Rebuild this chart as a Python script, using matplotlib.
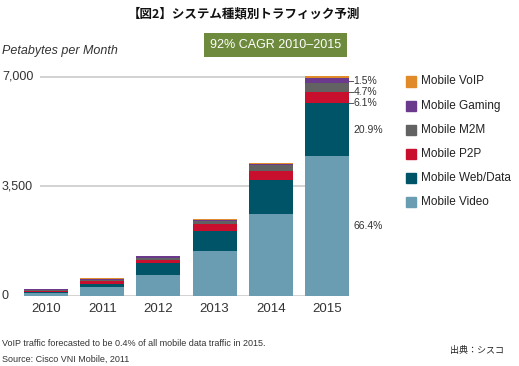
import matplotlib
matplotlib.use("Agg")
import matplotlib.pyplot as plt
import numpy as np

plt.rcParams['font.family'] = ['Liberation Sans', 'Noto Sans CJK JP', 'DejaVu Sans']

years = ['2010', '2011', '2012', '2013', '2014', '2015']
series_names = ['Mobile Video', 'Mobile Web/Data', 'Mobile P2P', 'Mobile M2M', 'Mobile Gaming', 'Mobile VoIP']
video = [108, 287, 670, 1446, 2608, 4470]
web = [35, 108, 390, 620, 1095, 1680]
p2p = [30, 96, 95, 223, 287, 370]
m2m = [25, 32, 70, 96, 176, 290]
gaming = [10, 25, 40, 32, 48, 140]
voip = [6, 15, 25, 32, 32, 70]
values = [video, web, p2p, m2m, gaming, voip]
colors = ['#6a9db1', '#005468', '#c8102e', '#626262', '#6b3a8c', '#e08a2a']
pct_labels = ['66.4%', '20.9%', '6.1%', '4.7%', '1.5%']
yticks = [0, 3500, 7000]
ytick_labels = ['0', '3,500', '7,000']

W, H = 519, 366
fig = plt.figure(figsize=(W / 100, H / 100), dpi=100)

def fx(px):
    return px / W

def fy(py):
    return 1 - py / H

# axes geometry
x0_px, spacing = 46, 56.2
xl = (-0.107, 5.4)
ax_left, ax_right = 40, 46 + 5.4 * spacing
y0_px, ppu = 296, 219.3 / 7000
ytop = 7200
ax_top = y0_px - ytop * ppu
ax = fig.add_axes([fx(ax_left), fy(y0_px), fx(ax_right - ax_left), (y0_px - ax_top) / H])
ax.set_xlim(*xl)
ax.set_ylim(0, ytop)

x = np.arange(len(years))
bottom = np.zeros(len(years))
for vals, c, name in zip(values, colors, series_names):
    ax.bar(x, vals, bottom=bottom, width=0.78, color=c, zorder=3, clip_on=False, label=name)
    bottom += np.array(vals)

for t in yticks:
    ax.axhline(t, color='#d2d2d2', lw=1.4, zorder=1)
for s in ax.spines.values():
    s.set_visible(False)
ax.set_xticks(x)
ax.set_xticklabels(years, fontsize=9.5, color='#333333')
ax.set_yticks([])
ax.tick_params(axis='x', length=0, pad=5)

for t, lab in zip(yticks, ytick_labels):
    fig.text(fx(2), fy(y0_px - t * ppu), lab, fontsize=9, color='#333333', va='center', ha='left')

# percentage labels for 2015
cum = np.cumsum([v[5] for v in values])
bars_b = np.concatenate([[0], cum[:-1]])
mids = (bars_b + cum) / 2
bar_right = 5 + 0.39
ax.text(5.47, mids[0], pct_labels[0], fontsize=7.5, color='#333333', va='center', ha='left', clip_on=False)
ax.text(5.47, mids[1], pct_labels[1], fontsize=7.5, color='#333333', va='center', ha='left', clip_on=False)
lab_y = [6160, 6500, 6850]
for seg, ly in zip([2, 3, 4], lab_y):
    ax.plot([bar_right, 5.47], [ly, ly], color='#555555', lw=0.7, clip_on=False)
    ax.text(5.47, ly, pct_labels[seg], fontsize=7.5, color='#333333', va='center', ha='left', clip_on=False)

# legend (manual)
leg_order = list(range(5, -1, -1))
for k, i in enumerate(leg_order):
    ly = 81.5 + k * 24.1
    fig.patches.append(plt.Rectangle((fx(406), fy(ly + 5)), fx(10), 10 / H, color=colors[i], transform=fig.transFigure))
    fig.text(fx(421), fy(ly), series_names[i], fontsize=8.5, color='#222222', va='center', ha='left')

# title
fig.text(fx(244), fy(14), '【図2】システム種類別トラフィック予測', fontsize=9, fontweight='bold',
         family=['Noto Sans CJK JP'], ha='center', va='center', color='#111111')
# y label
fig.text(fx(2), fy(51), 'Petabytes per Month', fontsize=9, style='italic', color='#333333', va='center')
# CAGR box
fig.text(fx(275.5), fy(45), '92% CAGR 2010–2015', fontsize=9, color='white', ha='center', va='center',
         bbox=dict(boxstyle='square,pad=0.45', fc='#6e8b3d', ec='none'))
# footnotes
fig.text(fx(2), fy(343), 'VoIP traffic forecasted to be 0.4% of all mobile data traffic in 2015.', fontsize=6.5,
         color='#333333', va='center')
fig.text(fx(2), fy(359), 'Source: Cisco VNI Mobile, 2011', fontsize=6.5, color='#333333', va='center')
fig.text(fx(450), fy(351), '出典：シスコ', fontsize=6.5, family=['Noto Sans CJK JP'], color='#222222', va='center')

fig.savefig('out.png', dpi=100)
